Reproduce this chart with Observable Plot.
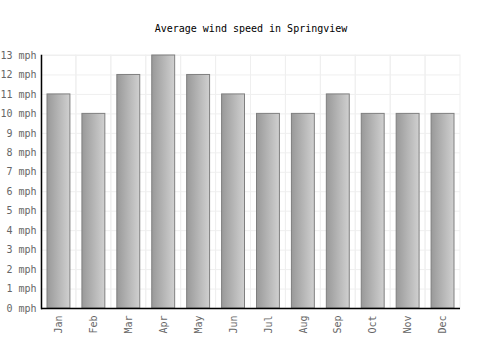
<!DOCTYPE html>
<html>
<head>
<meta charset="utf-8">
<script src="https://cdn.jsdelivr.net/npm/d3@7"></script>
<script src="https://cdn.jsdelivr.net/npm/@observablehq/plot@0.6"></script>
<style>
  html, body { margin: 0; padding: 0; background: #fff; }
</style>
</head>
<body>
<div id="chart"></div>
<script>
const months = ["Jan","Feb","Mar","Apr","May","Jun","Jul","Aug","Sep","Oct","Nov","Dec"];
const windSpeed = [11,10,12,13,12,11,10,10,11,10,10,10];
const yTicks = [0,1,2,3,4,5,6,7,8,9,10,11,12,13];
const title = "Average wind speed in Springview";

const data = months.map((m, i) => ({month: m, value: windSpeed[i]}));

const defs = () => {
  const d = d3.create("svg:defs");
  const g = d.append("linearGradient").attr("id", "barGrad").attr("x1", "0").attr("x2", "1").attr("y1", "0").attr("y2", "0");
  g.append("stop").attr("offset", "0%").attr("stop-color", "#999999");
  g.append("stop").attr("offset", "100%").attr("stop-color", "#d0d0d0");
  return d.node();
};

const chart = Plot.plot({
  width: 500,
  height: 350,
  marginLeft: 41,
  marginRight: 40,
  marginTop: 55,
  marginBottom: 42,
  style: {fontFamily: "DejaVu Sans Mono", fontSize: "10px", background: "#fff"},
  x: {domain: months, padding: 0, round: false, label: null},
  y: {domain: [0, 13], label: null},
  marks: [
    defs,
    Plot.barY(months, {x: d => d, y1: 0, y2: 13, fill: "none", stroke: "#efefef", strokeWidth: 1}),
    Plot.gridY(yTicks, {stroke: "#efefef", strokeOpacity: 1, strokeWidth: 1}),
    Plot.barY(data, {x: "month", y: "value", fill: "url(#barGrad)", stroke: "#7f7f7f", strokeWidth: 1, insetLeft: 6, insetRight: 6}),
    Plot.axisY(yTicks, {tickFormat: d => d + " mph", tickSize: 0, tickPadding: 5, fill: "#666", fontSize: 10, label: null}),
    Plot.axisX({tickRotate: -90, tickSize: 0, tickPadding: 7, fill: "#666", fontSize: 10, label: null}),
    Plot.ruleY([0], {stroke: "#000", strokeWidth: 1.5}),
    Plot.frame({anchor: "left", stroke: "#000", strokeWidth: 1.5}),
    Plot.text([title], {text: d => d, frameAnchor: "top", dy: -31, fill: "#000", fontSize: 10})
  ]
});

document.getElementById("chart").appendChild(chart);
</script>
</body>
</html>
